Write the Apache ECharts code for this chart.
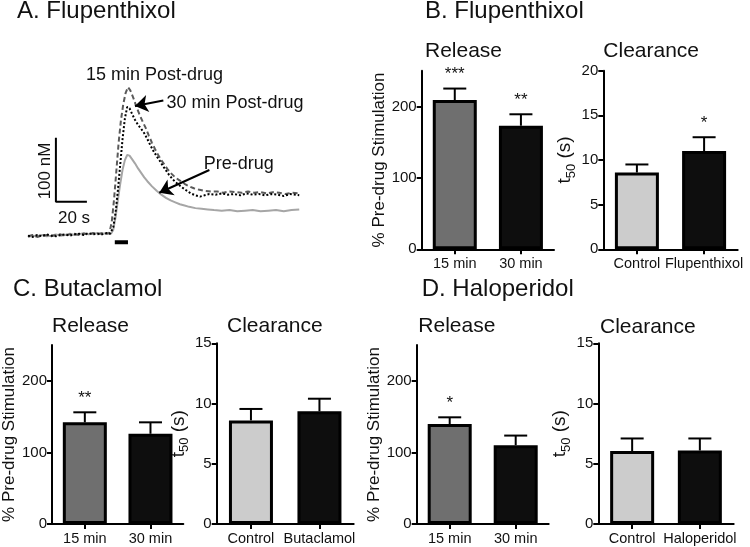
<!DOCTYPE html>
<html><head><meta charset="utf-8">
<script src="https://cdn.jsdelivr.net/npm/echarts@6/dist/echarts.min.js"></script>
<style>html,body{margin:0;padding:0;background:#fff}#c{width:750px;height:547px}</style>
</head><body><div id="c"></div>
<script>
const FONT = '"Liberation Sans", Arial, Helvetica, sans-serif';

// ---------- Panel A: voltammetric traces (time in s, concentration in nM) ----------
const preT = [0,3,6,9,12,15,18,21,24,27,30,33,36,39,42,45,48,51,53.5,55,56.5,58,59.5,61,62.5,64,65.5,67,69,71,73,75,77,80,83,86,89,92,95,98,101,104,108,112,116,120,125,130,135,140,145,150,155,160,165,170,175];
const preC = [-3,-1,-2,0,-2,-1,1,-1,0,2,0,1,3,1,2,3,2,3,2,8,28,55,80,102,117,125,124,119,112,104,97,90,84,76,69,63,58,54,51,48,46,44,42,41,40,39,38,39,37,38,39,37,38,39,37,39,40];
const post15T = [0,3,6,9,12,15,18,21,24,27,30,33,36,39,42,45,48,51,52.5,54,55.5,57,58.5,60,61.5,63,64.5,66,68,70,72,74,76,78,80,82,84,86,88,90,92,95,98,101,104,107,110,114,118,122,126,130,134,138,142,146,150,154,158,162,166,170,175];
const post15C = [-2,0,-3,-1,0,-2,0,1,-1,1,2,0,2,1,3,1,3,2,3,20,55,100,145,180,205,222,231,226,214,200,188,177,167,155,144,134,125,117,110,103,97,90,85,80,76,73,71,69,68,68,66,68,67,66,68,66,67,65,67,66,64,66,65];
const post30T = [0,3,6,9,12,15,18,21,24,27,30,33,36,39,42,45,48,51,53,55,56.5,58,59.5,61,62.5,64,65.5,67,69,71,73,75,77,79,81,83,85,87,89,91,93,95,97,99,102,105,108,111,114,117,121,125,129,133,137,141,145,149,153,157,161,165,169,175];
const post30C = [-1,-3,0,-2,1,-1,-2,0,1,-1,1,2,0,3,1,2,1,3,2,12,35,70,110,150,182,200,198,190,180,172,166,159,150,140,131,123,116,108,101,94,88,83,79,75,70,65,62,60,62,64,63,65,63,64,62,65,63,64,62,64,63,61,64,62];
const scaleBarX = 20;   // s
const scaleBarY = 100;  // nM
const stimStart = 56, stimEnd = 64.5; // s

// ---------- Bar panels ----------
const releaseCats = ['15 min', '30 min'];
const clearB = ['Control', 'Flupenthixol'];
const clearC = ['Control', 'Butaclamol'];
const clearD = ['Control', 'Haloperidol'];

const bReleaseMean = [209, 173];   const bReleaseSem = [16, 16];   const bReleaseStars = ['***', '**'];
const bClearMean   = [8.6, 11.0];  const bClearSem   = [0.9, 1.55]; const bClearStars  = ['', '*'];
const cReleaseMean = [142, 126];   const cReleaseSem = [14, 16];   const cReleaseStars = ['**', ''];
const cClearMean   = [8.6, 9.35];  const cClearSem   = [0.95, 1.05]; const cClearStars = ['', ''];
const dReleaseMean = [139.5, 110]; const dReleaseSem = [9.5, 13.5]; const dReleaseStars = ['*', ''];
const dClearMean   = [6.05, 6.1];  const dClearSem   = [1.05, 1.0]; const dClearStars  = ['', ''];

const releaseTicks = [0, 100, 200];
const clearTicksB = [0, 5, 10, 15, 20];
const clearTicksCD = [0, 5, 10, 15];

const releaseColors = ['#6f6f6f', '#0e0e0e'];
const clearColors = ['#cccccc', '#0e0e0e'];

const chart = echarts.init(document.getElementById('c'));

const zip = (a, b) => a.map((t, i) => [t, b[i]]);

const grids = [
  {left: 28, top: 75, width: 272.8, height: 172.8},
  {left: 421.7, top: 70.7, width: 132.3, height: 178.6},
  {left: 603.3, top: 70.7, width: 134.4, height: 178.6},
  {left: 50, top: 345, width: 133.3, height: 179},
  {left: 216.7, top: 343.3, width: 137, height: 180.7},
  {left: 416.7, top: 345, width: 132, height: 179},
  {left: 598.3, top: 343.3, width: 135.4, height: 180.7}
];

const axisLine = {show: true, lineStyle: {color: '#000', width: 2}};

function xCat(gi, cats) {
  return {
    type: 'category', gridIndex: gi, data: cats,
    axisLine: axisLine,
    axisTick: {show: true, alignWithLabel: true, length: 5, lineStyle: {color: '#000', width: 2}},
    axisLabel: {fontSize: 14.5, fontFamily: FONT, color: '#111', margin: 7, interval: 0, hideOverlap: false}
  };
}
function yVal(gi, max, ticks, name, gap, rich) {
  const ax = {
    type: 'value', gridIndex: gi, min: 0, max: max,
    axisLine: axisLine,
    splitLine: {show: false},
    axisTick: {show: true, length: 5, lineStyle: {color: '#000', width: 2}, customValues: ticks},
    axisLabel: {fontSize: 15, fontFamily: FONT, color: '#111', margin: 5, customValues: ticks},
    name: name, nameLocation: 'middle', nameGap: gap,
    nameTextStyle: {fontSize: 17, fontFamily: FONT, color: '#111'}
  };
  if (rich) {
    ax.nameTextStyle = {fontFamily: FONT, color: '#111', rich: {
      t: {fontSize: 19, fontFamily: FONT, color: '#111', lineHeight: 22, verticalAlign: 'top'},
      s: {fontSize: 13, fontFamily: FONT, color: '#111', lineHeight: 12, verticalAlign: 'bottom'}
    }};
  }
  return ax;
}

function barSeries(gi, means, colors) {
  return {
    type: 'bar', xAxisIndex: gi, yAxisIndex: gi, barWidth: 44, silent: true,
    data: means.map((v, i) => ({value: v, itemStyle: {color: colors[i], borderColor: '#000', borderWidth: 3}}))
  };
}
function errSeries(gi, means, sems, stars) {
  return {
    type: 'custom', xAxisIndex: gi, yAxisIndex: gi, z: 5, silent: true,
    data: means.map((m, i) => [i, m, sems[i]]),
    encode: {x: 0, y: 1},
    renderItem: function (params, api) {
      const i = api.value(0), m = api.value(1), s = api.value(2);
      const p0 = api.coord([i, m]);
      const p1 = api.coord([i, m + s]);
      const w = 11.5;
      const children = [
        {type: 'line', shape: {x1: p0[0], y1: p0[1], x2: p1[0], y2: p1[1]}, style: {stroke: '#000', lineWidth: 2}},
        {type: 'line', shape: {x1: p1[0] - w, y1: p1[1], x2: p1[0] + w, y2: p1[1]}, style: {stroke: '#000', lineWidth: 2}}
      ];
      const st = stars[params.dataIndex];
      if (st) {
        children.push({type: 'text', style: {text: st, x: p1[0], y: p1[1] - 14, textAlign: 'center', textVerticalAlign: 'middle', align: 'center', verticalAlign: 'middle', font: '17px ' + FONT, fill: '#111'}});
      }
      return {type: 'group', children: children};
    }
  };
}

function txt(text, x, y, size, align, rot) {
  return {
    type: 'text', x: x, y: y, rotation: rot || 0, silent: true,
    style: {text: text, font: size + 'px ' + FONT, fill: '#111', textAlign: align || 'left', align: align || 'left', textVerticalAlign: 'middle', verticalAlign: 'middle'}
  };
}

const lineBase = {type: 'line', xAxisIndex: 0, yAxisIndex: 0, showSymbol: false, symbol: 'none', silent: true, animation: false};

const option = {
  animation: false,
  grid: grids,
  xAxis: [
    {type: 'value', gridIndex: 0, min: 0, max: 176, show: false},
    xCat(1, releaseCats), xCat(2, clearB),
    xCat(3, releaseCats), xCat(4, clearC),
    xCat(5, releaseCats), xCat(6, clearD)
  ],
  yAxis: [
    {type: 'value', gridIndex: 0, min: -20, max: 250, show: false},
    yVal(1, 250, releaseTicks, '% Pre-drug Stimulation', 34),
    yVal(2, 20, clearTicksB, '{t|t}{s|50}{t| (s)}', 24, true),
    yVal(3, 250, releaseTicks, '% Pre-drug Stimulation', 34),
    yVal(4, 15, clearTicksCD, '{t|t}{s|50}{t| (s)}', 16, true),
    yVal(5, 250, releaseTicks, '% Pre-drug Stimulation', 34),
    yVal(6, 15, clearTicksCD, '{t|t}{s|50}{t| (s)}', 23, true)
  ],
  series: [
    Object.assign({}, lineBase, {name: 'Pre-drug', data: zip(preT, preC), lineStyle: {color: '#a6a6a6', width: 2}}),
    Object.assign({}, lineBase, {name: '15 min Post-drug', data: zip(post15T, post15C), lineStyle: {color: '#5a5a5a', width: 2, type: [5, 3]}}),
    Object.assign({}, lineBase, {name: '30 min Post-drug', data: zip(post30T, post30C), lineStyle: {color: '#000', width: 2, type: [2, 2]}}),
    Object.assign({}, lineBase, {name: 'scale', data: [[18, 52 + scaleBarY], [18, 52], [18 + scaleBarX, 52]], lineStyle: {color: '#000', width: 2},
      markLine: {silent: true, animation: false, symbol: ['none', 'arrow'], symbolSize: 13,
        lineStyle: {color: '#000', width: 2, type: 'solid'}, label: {show: false},
        data: [
          [{coord: [87.3, 210]}, {coord: [69, 201.6]}],
          [{coord: [117, 101.6]}, {coord: [84.7, 66]}]
        ]}}),
    Object.assign({}, lineBase, {name: 'stim', data: [[stimStart, -11.4], [stimEnd, -11.4]], lineStyle: {color: '#000', width: 4}}),

    barSeries(1, bReleaseMean, releaseColors), errSeries(1, bReleaseMean, bReleaseSem, bReleaseStars),
    barSeries(2, bClearMean, clearColors), errSeries(2, bClearMean, bClearSem, bClearStars),
    barSeries(3, cReleaseMean, releaseColors), errSeries(3, cReleaseMean, cReleaseSem, cReleaseStars),
    barSeries(4, cClearMean, clearColors), errSeries(4, cClearMean, cClearSem, cClearStars),
    barSeries(5, dReleaseMean, releaseColors), errSeries(5, dReleaseMean, dReleaseSem, dReleaseStars),
    barSeries(6, dClearMean, clearColors), errSeries(6, dClearMean, dClearSem, dClearStars)
  ],
  graphic: [
    txt('A. Flupenthixol', 17, 11, 24),
    txt('B. Flupenthixol', 425, 11, 24),
    txt('C. Butaclamol', 13, 289, 24),
    txt('D. Haloperidol', 421.7, 289, 24),
    txt('Release', 425, 51, 21),
    txt('Clearance', 603.3, 51, 21),
    txt('Release', 52, 326, 21),
    txt('Clearance', 227, 326, 21),
    txt('Release', 418.3, 326, 21),
    txt('Clearance', 600, 327, 21),
    txt('15 min Post-drug', 154.5, 75, 18, 'center'),
    txt('30 min Post-drug', 235, 103, 18, 'center'),
    txt('Pre-drug', 238.7, 164, 18, 'center'),
    txt('100 nM', 45, 171, 17, 'center', Math.PI / 2),
    txt('20 s', 74, 218, 17, 'center')
  ]
};
chart.setOption(option);
</script>
</body></html>
